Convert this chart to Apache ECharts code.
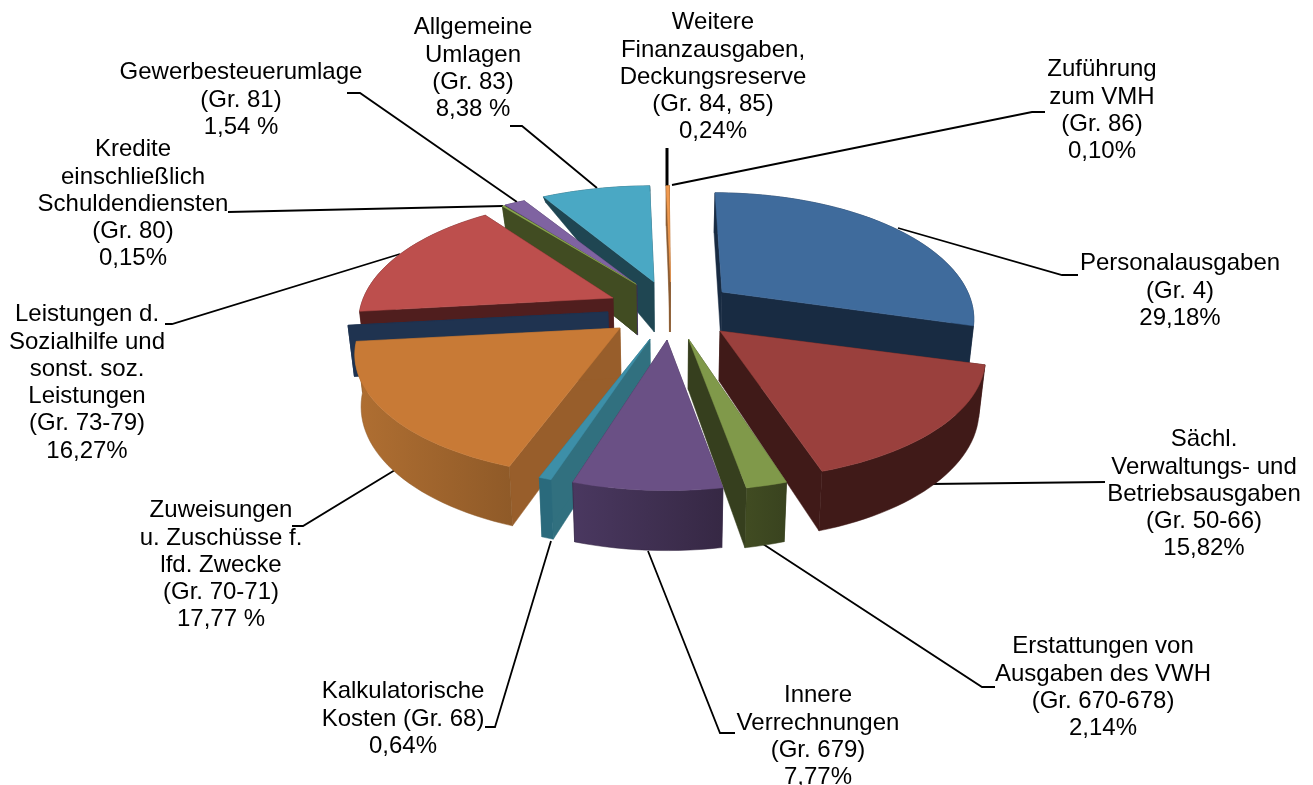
<!DOCTYPE html>
<html><head><meta charset="utf-8">
<style>html,body{margin:0;padding:0;background:#fff}#c{width:1313px;height:785px}</style>
<script src="https://cdn.jsdelivr.net/npm/echarts@6/dist/echarts.min.js"></script></head>
<body><div id="c"></div>
<script>
const categories = [
 "Personalausgaben\n(Gr. 4)\n29,18%",
 "Sächl.\nVerwaltungs- und\nBetriebsausgaben\n(Gr. 50-66)\n15,82%",
 "Erstattungen von\nAusgaben des VWH\n(Gr. 670-678)\n2,14%",
 "Innere\nVerrechnungen\n(Gr. 679)\n7,77%",
 "Kalkulatorische\nKosten (Gr. 68)\n0,64%",
 "Zuweisungen\nu. Zuschüsse f.\nlfd. Zwecke\n(Gr. 70-71)\n17,77 %",
 "",
 "Leistungen d.\nSozialhilfe und\nsonst. soz.\nLeistungen\n(Gr. 73-79)\n16,27%",
 "Kredite\neinschließlich\nSchuldendiensten\n(Gr. 80)\n0,15%",
 "Gewerbesteuerumlage\n(Gr. 81)\n1,54 %",
 "Allgemeine\nUmlagen\n(Gr. 83)\n8,38 %",
 "Weitere\nFinanzausgaben,\nDeckungsreserve\n(Gr. 84, 85)\n0,24%",
 "Zuführung\nzum VMH\n(Gr. 86)\n0,10%"
];
const values = [29.18,15.82,2.14,7.77,0.64,17.77,0.01,16.27,0.15,1.54,8.38,0.24,0.10];

// layout: where each exploded slice's tip sits, and small projection corrections
const tips = [[722,292],[720,331],[688.5,339],[667,340],[650,339],[620,328],[608,312],[613,298],[636,284],[637,285],[654,282],[670.5,282],[669.5,282]];
const scaleX = [0.96,1.012,1.02,1.02,1.03,1.012,1,0.975,1.02,1.02,1,1,1];
const scaleY = [1,1,1.02,1.012,1,1,1,1,0.94,0.96,0.97,0.97,0.97];
const lean = [7,7,2,0,-4,-6,0,0,0,0,0,0,0];
const rimDepth = [1,1,1,1,1,1,1,1,0.55,0.55,0.14,1,1];
const paintOrder = [10,9,8,12,11,0,7,6,5,1,2,4,3];
const topColors = ['#3f6b9c','#9a403d','#80994a','#6a5085','#3d8fa8','#c87a36','#1f3350','#bd4f4d','#8da850','#7f63a1','#4aa8c4','#f09a50','#f09a50'];
const cutColors = ['#182b42','#401a18','#363f1e','#3c2c4d','#31707f','#985e2b','#1f3350','#501e1e','#414c22','#3c2e52','#1f4652','#8a5a30','#8a5a30'];
const wallLeft  = ['#1a2d45','#401a18','#414c22','#4a3860','#2a6a7c','#b06f32','#1f3350','#501e1e','#414c22','#3c2e52','#1f4652','#8a5a30','#8a5a30'];
const wallRight = ['#182b42','#401a18','#39431f','#362844','#2a6a7c','#8f5a28','#1f3350','#501e1e','#414c22','#3c2e52','#1f4652','#8a5a30','#8a5a30'];
const labelPos = [[1180,250],[1204,426],[1103,633],[818,682],[403,678],[221,497],[0,0],[87,301],[133,136],[241,59],[473,14],[713,9],[1102,56]];
const leaders = [
 [[898,228],[1062,275],[1078,275]],
 [[930,484],[1105,482]],
 [[763,544],[982,687],[995,687]],
 [[648,551],[720,733],[735,733]],
 [[551,541],[495,727],[485,727]],
 [[395,470],[303,526],[292,526]],
 [],
 [[400,254],[172,324],[165,324]],
 [[503,206],[228,212]],
 [[517,202],[360,93],[347,93]],
 [[597,188],[522,126],[510,126]],
 [[667,186],[667,148]],
 [[672,185],[1032,112],[1045,112]]
];
const RX=256, RY=124, K=0.2, DEPTH=50, VX=668;

const total = values.reduce((a,b)=>a+b,0);
const startAngle = []; let acc=0;
values.forEach((v,i)=>{ startAngle[i]=acc/total*2*Math.PI; acc+=v; });
const endAngle = values.map((v,i)=>startAngle[i]+v/total*2*Math.PI);

function rim(i,t){
  const u=Math.sin(t), v=-Math.cos(t), s=1+K*v;
  return {x:tips[i][0]+RX*scaleX[i]*u*s+lean[i]*v, y:tips[i][1]+RY*scaleY[i]*v*s, v};
}
function low(p,f){ const x=p.x-(p.x-VX)*0.02; return [x,p.y+DEPTH*(1+K*p.v)*f]; }

function renderSlice(params){
  const i=paintOrder[params.dataIndex];
  const a=startAngle[i], b=endAngle[i], f=rimDepth[i];
  const n=Math.max(2,Math.ceil((b-a)/(Math.PI/90)));
  const pts=[]; for(let k=0;k<=n;k++) pts.push(rim(i,a+(b-a)*k/n));
  const tip={x:tips[i][0],y:tips[i][1],v:0};
  const top=[[tip.x,tip.y]].concat(pts.map(p=>[p.x,p.y]));
  const wall=pts.map(p=>[p.x,p.y]).concat(pts.slice().reverse().map(p=>low(p,f)));
  const cut=p=>({type:'polygon',shape:{points:[[tip.x,tip.y],[p.x,p.y],low(p,f),low(tip,1)]},
      style:{fill:cutColors[i],stroke:cutColors[i],lineWidth:0.5}});
  const wallEl={type:'polygon',shape:{points:wall},style:{
      fill:new echarts.graphic.LinearGradient(0,0,1,0,[{offset:0,color:wallLeft[i]},{offset:1,color:wallRight[i]}]),
      stroke:wallRight[i],lineWidth:0.5}};
  const midV=-Math.cos((a+b)/2);
  const children=[];
  if(midV<0) children.push(wallEl);
  children.push(cut(pts[0]),cut(pts[pts.length-1]));
  if(midV>=0) children.push(wallEl);
  children.push({type:'polygon',shape:{points:top},style:{fill:topColors[i],stroke:topColors[i],lineWidth:0.5}});
  return {type:'group',children};
}
function renderLabel(params){
  const i=params.dataIndex, kids=[];
  if(leaders[i].length) kids.push({type:'polyline',shape:{points:leaders[i]},
      style:{fill:null,stroke:'#000',lineWidth:i===11?3:1.8}});
  if(categories[i]) kids.push({type:'text',style:{text:categories[i],x:labelPos[i][0],y:labelPos[i][1],
      align:'center',verticalAlign:'top',fill:'#000',lineHeight:27.3,font:'24px "Liberation Sans", Arial, sans-serif'}});
  return {type:'group',children:kids};
}
const chart=echarts.init(document.getElementById('c'),null,{renderer:'canvas'});
chart.setOption({
  animation:false,backgroundColor:'#fff',
  series:[
    {type:'custom',coordinateSystem:'none',silent:true,z:1,data:categories.map((c,i)=>values[i]),renderItem:renderLabel},
    {type:'custom',coordinateSystem:'none',silent:true,z:2,data:paintOrder.map(i=>values[i]),renderItem:renderSlice}
  ]
});
</script></body></html>
